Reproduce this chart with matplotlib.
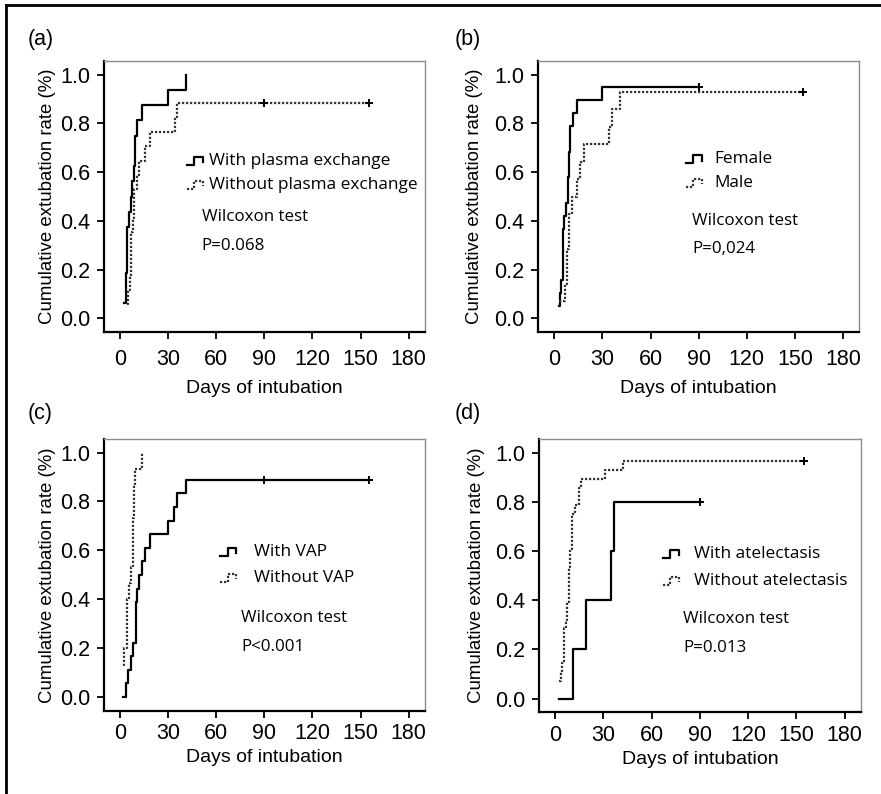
import matplotlib
matplotlib.use("Agg")
import matplotlib.pyplot as plt
from matplotlib.lines import Line2D

# panel (a): plasma exchange
a_with_t = [2.5, 3.5, 4, 4.6, 5.8, 6.7, 7.5, 8.5, 9.4, 10.4, 13.5, 30, 41]
a_with_v = [0.0625, 0.125, 0.1875, 0.375, 0.4375, 0.5, 0.5625, 0.625, 0.75, 0.8125, 0.875, 0.9375, 1.0]
a_without_t = [4.2, 5.2, 6.2, 6.9, 7.9, 8.8, 10.4, 12, 15.6, 18.8, 34.4, 35.8]
a_without_v = [0.059, 0.118, 0.176, 0.353, 0.412, 0.529, 0.588, 0.647, 0.706, 0.765, 0.824, 0.882]

# panel (b): sex
b_female_t = [2.7, 3.3, 4.4, 5.2, 6.2, 7.3, 8.3, 9, 10, 11.7, 14.2, 30]
b_female_v = [0.053, 0.105, 0.158, 0.368, 0.421, 0.474, 0.579, 0.684, 0.789, 0.842, 0.895, 0.947]
b_male_t = [3.1, 6.9, 7.9, 9, 11, 14.2, 16.2, 18.5, 34, 36, 41.2]
b_male_v = [0.071, 0.143, 0.286, 0.429, 0.5, 0.571, 0.643, 0.714, 0.786, 0.857, 0.929]

# panel (c): VAP
c_vap_t = [2.1, 3.75, 5.2, 6.9, 7.9, 10, 10.8, 12.1, 14, 15.8, 18.75, 30.2, 33.75, 35.8, 41.25]
c_vap_v = [0, 0.056, 0.111, 0.167, 0.222, 0.389, 0.444, 0.5, 0.556, 0.611, 0.667, 0.722, 0.778, 0.833, 0.889]
c_novap_t = [2.1, 2.7, 4.6, 5.8, 7, 7.9, 8.75, 9.4, 14]
c_novap_v = [0.133, 0.2, 0.4, 0.467, 0.533, 0.733, 0.867, 0.933, 1.0]

# panel (d): atelectasis
d_atel_t = [2.5, 11, 19.4, 34.4, 36.5]
d_atel_v = [0, 0.2, 0.4, 0.6, 0.8]
d_noatel_t = [2.5, 3.5, 4.5, 5.5, 6.5, 7.5, 8.5, 9.4, 10.4, 12.5, 14.6, 16, 30.8, 42]
d_noatel_v = [0.071, 0.107, 0.143, 0.286, 0.321, 0.393, 0.536, 0.607, 0.75, 0.786, 0.857, 0.893, 0.929, 0.964]

panel_letters = ["(a)", "(b)", "(c)", "(d)"]
legend_labels = [["With plasma exchange", "Without plasma exchange"],
                 ["Female", "Male"],
                 ["With VAP", "Without VAP"],
                 ["With atelectasis", "Without atelectasis"]]
p_values = ["P=0.068", "P=0,024", "P<0.001", "P=0.013"]
xticks = [0, 30, 60, 90, 120, 150, 180]
yticks = [0.0, 0.2, 0.4, 0.6, 0.8, 1.0]

TICKFONT = "Liberation Sans"
TXTFONT = "Open Sans"

solid = dict(color="black", lw=1.6, linestyle="-")
dotted = dict(color="#333333", lw=1.6, linestyle=(0, (1, 0.8)))


def km(ax, t, v, end, censor, style):
    xs = list(t)
    ys = list(v)
    if end is not None:
        xs.append(end)
        ys.append(v[-1])
    ax.step(xs, ys, where="post", **style)
    if censor:
        ax.plot(censor, [v[-1]] * len(censor), "+", color="black", ms=6, mew=1.4)


def glyph(ax, x, y, style):
    w, h = 0.05, 0.03
    xs = [x, x + 0.45 * w, x + 0.45 * w, x + w, x + w]
    ys = [y - h / 2, y - h / 2, y + h / 2, y + h / 2, y - h / 6]
    ax.plot(xs, ys, transform=ax.transAxes, clip_on=False, **style)


fig = plt.figure(figsize=(8.81, 7.94), dpi=100)

# axes boxes in figure fraction
boxes = [[0.118, 0.582, 0.364, 0.341],
         [0.611, 0.582, 0.364, 0.341],
         [0.118, 0.105, 0.364, 0.342],
         [0.612, 0.103, 0.365, 0.344]]
# label / text positions (axes fraction)
ylab_x = [-0.15, -0.171, -0.15, -0.168]
xlab_y = [-0.177, -0.177, -0.143, -0.143]
tick_pad = [7, 7, 4, 4]
leg_x = [0.327, 0.548, 0.469, 0.481]
leg_y = [(0.631, 0.542), (0.638, 0.55), (0.585, 0.489), (0.579, 0.48)]
glyph_x = [0.259, 0.461, 0.363, 0.385]
wil_x = [0.305, 0.48, 0.428, 0.447]
wil_y = [(0.424, 0.317), (0.41, 0.306), (0.342, 0.235), (0.341, 0.234)]
letter_pos = [(28, 40), (455, 40), (28, 413), (455, 413)]

axes = [fig.add_axes(b) for b in boxes]

km(axes[0], a_with_t, a_with_v, None, [], solid)
km(axes[0], a_without_t, a_without_v, 155, [90, 155], dotted)
km(axes[1], b_female_t, b_female_v, 90, [90], solid)
km(axes[1], b_male_t, b_male_v, 155, [155], dotted)
km(axes[2], c_vap_t, c_vap_v, 155, [90, 155], solid)
km(axes[2], c_novap_t, c_novap_v, None, [], dotted)
km(axes[3], d_atel_t, d_atel_v, 90, [90], solid)
km(axes[3], d_noatel_t, d_noatel_v, 155, [155], dotted)

for i, ax in enumerate(axes):
    ax.set_xlim(-10, 190)
    ax.set_ylim(-0.055, 1.055)
    ax.set_xticks(xticks)
    ax.set_yticks(yticks)
    ax.set_yticklabels(["%.1f" % y for y in yticks])
    for s in ["left", "bottom"]:
        ax.spines[s].set_linewidth(1.6)
        ax.spines[s].set_color("black")
    for s in ["top", "right"]:
        ax.spines[s].set_linewidth(1.0)
        ax.spines[s].set_color("#8c8c8c")
    ax.tick_params(direction="out", length=5, width=1.3, labelsize=15.5, pad=tick_pad[i])
    for lab in ax.get_xticklabels() + ax.get_yticklabels():
        lab.set_fontfamily(TICKFONT)
    ax.tick_params(axis="y", pad=5)
    ax.set_xlabel("Days of intubation", fontsize=14, family=TICKFONT)
    ax.set_ylabel("Cumulative extubation rate (%)", fontsize=13.4, family=TICKFONT)
    ax.xaxis.set_label_coords(0.5, xlab_y[i])
    ax.yaxis.set_label_coords(ylab_x[i], 0.5)

    glyph(ax, glyph_x[i], leg_y[i][0], solid)
    glyph(ax, glyph_x[i], leg_y[i][1], dotted)
    ax.text(leg_x[i], leg_y[i][0], legend_labels[i][0], transform=ax.transAxes,
            fontsize=12.4, family=TXTFONT, va="center")
    ax.text(leg_x[i], leg_y[i][1], legend_labels[i][1], transform=ax.transAxes,
            fontsize=12.4, family=TXTFONT, va="center")
    ax.text(wil_x[i], wil_y[i][0], "Wilcoxon test", transform=ax.transAxes,
            fontsize=12.2, family=TXTFONT, va="center")
    ax.text(wil_x[i], wil_y[i][1], p_values[i], transform=ax.transAxes,
            fontsize=12.2, family=TXTFONT, va="center")

    fig.text(letter_pos[i][0] / 881, 1 - letter_pos[i][1] / 794, panel_letters[i],
             fontsize=15.5, family=TICKFONT, va="center", ha="left")

# frame lines on the left and top edge
fig.add_artist(Line2D([6 / 881, 6 / 881], [0, 1 - 5 / 794], color="black", lw=2))
fig.add_artist(Line2D([6 / 881, 1], [1 - 5 / 794, 1 - 5 / 794], color="black", lw=2))

fig.savefig("out.png", dpi=100)
